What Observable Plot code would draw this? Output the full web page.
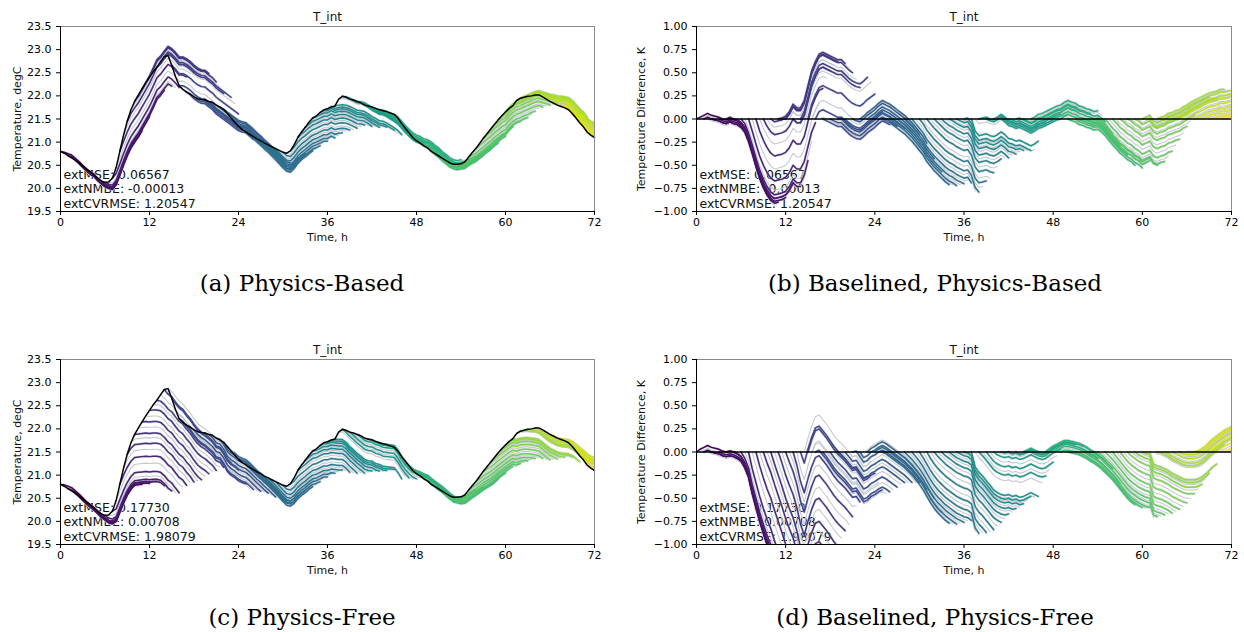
<!DOCTYPE html>
<html>
<head>
<meta charset="utf-8">
<script src="https://cdn.jsdelivr.net/npm/d3@7"></script>
<script src="https://cdn.jsdelivr.net/npm/@observablehq/plot@0.6"></script>
<style>
  body { margin: 0; background: #fff; }
  #fig { position: relative; width: 1244px; height: 632px; overflow: hidden; background: #fff; }
  .panel { position: absolute; }
  .cap { position: absolute; font-family: "DejaVu Serif", serif; font-size: 23px; color: #000;
         transform: translate(-50%, -50%); white-space: nowrap; }
</style>
</head>
<body>
<div id="fig"></div>
<script>
// Measured indoor temperature T_int, degC, every 0.5 h from 0 to 72 h
const measured = [
  20.80, 20.76, 20.71, 20.66, 20.61, 20.55, 20.48, 20.42, 20.36, 20.29, 20.22, 20.16,
  20.13, 20.14, 20.22, 20.45, 20.80, 21.15, 21.45, 21.70, 21.88, 22.02, 22.15, 22.28,
  22.40, 22.52, 22.62, 22.74, 22.85, 22.87, 22.66, 22.42, 22.22, 22.14, 22.08, 22.04,
  21.98, 21.94, 21.92, 21.91, 21.88, 21.86, 21.80, 21.76, 21.71, 21.62, 21.52, 21.43,
  21.34, 21.27, 21.22, 21.17, 21.12, 21.07, 21.03, 20.98, 20.94, 20.90, 20.86, 20.82,
  20.78, 20.76, 20.81, 20.94, 21.10, 21.22, 21.32, 21.43, 21.52, 21.57, 21.64, 21.70,
  21.72, 21.76, 21.78, 21.93, 21.99, 21.97, 21.93, 21.91, 21.88, 21.85, 21.80, 21.78,
  21.76, 21.73, 21.70, 21.68, 21.66, 21.63, 21.60, 21.52, 21.40, 21.30, 21.20, 21.10,
  21.03, 20.98, 20.92, 20.87, 20.80, 20.75, 20.70, 20.65, 20.60, 20.55, 20.52, 20.52,
  20.53, 20.57, 20.67, 20.77, 20.86, 20.97, 21.08, 21.18, 21.28, 21.38, 21.48, 21.57,
  21.65, 21.73, 21.79, 21.90, 21.95, 21.97, 21.99, 22.00, 22.02, 22.02, 21.98, 21.93,
  21.88, 21.84, 21.80, 21.77, 21.74, 21.70, 21.62, 21.52, 21.42, 21.33, 21.22, 21.15,
  21.10
];

// Free-run model minus measurement, K, on the same 0.5 h grid.
// A forecast issued at hour s is anchored on the measurement at s, so its
// deviation at hour t is error[t] - error[s].
const errorPhysicsBased = [
   0.00,  0.02,  0.04,  0.06,  0.04,  0.03,  0.02,  0.00, -0.01,  0.01, -0.01, -0.02,
  -0.05, -0.10, -0.20, -0.33, -0.47, -0.60, -0.70, -0.78, -0.84, -0.87, -0.86, -0.85,
  -0.83, -0.78, -0.70, -0.74, -0.74, -0.66, -0.50, -0.34, -0.24, -0.16, -0.14, -0.16,
  -0.18, -0.20, -0.22, -0.22, -0.26, -0.30, -0.33, -0.35, -0.36, -0.33, -0.29, -0.26,
  -0.23, -0.19, -0.16, -0.18, -0.20, -0.23, -0.26, -0.29, -0.32, -0.36, -0.40, -0.45,
  -0.50, -0.55, -0.62, -0.67, -0.72, -0.76, -0.80, -0.84, -0.87, -0.89, -0.92, -0.94,
  -0.96, -0.95, -1.01, -1.14, -1.19, -1.18, -1.17, -1.19, -1.20, -1.18, -1.15, -1.18,
  -1.22, -1.23, -1.25, -1.24, -1.26, -1.28, -1.30, -1.28, -1.25, -1.24, -1.22, -1.20,
  -1.18, -1.16, -1.15, -1.12, -1.10, -1.12, -1.13, -1.16, -1.17, -1.19, -1.20, -1.22,
  -1.21, -1.24, -1.28, -1.33, -1.38, -1.42, -1.47, -1.50, -1.54, -1.56, -1.60, -1.62,
  -1.66, -1.64, -1.62, -1.68, -1.70, -1.68, -1.67, -1.64, -1.63, -1.61, -1.60, -1.57,
  -1.55, -1.52, -1.50, -1.48, -1.46, -1.44, -1.42, -1.41, -1.40, -1.38, -1.38, -1.37,
  -1.36
];

const errorPhysicsFree = [
   0.00,  0.03,  0.05,  0.07,  0.05,  0.04,  0.03,  0.01,  0.00,  0.01,  0.00, -0.02,
  -0.05, -0.12, -0.22, -0.40, -0.55, -0.70, -0.83, -0.95, -1.05, -1.18, -1.30, -1.42,
  -1.55, -1.66, -1.76, -1.90, -2.08, -2.20, -2.05, -1.92, -1.82, -1.80, -1.85, -1.90,
  -1.96, -2.02, -2.07, -2.11, -2.15, -2.20, -2.25, -2.24, -2.30, -2.36, -2.34, -2.30,
  -2.28, -2.25, -2.23, -2.25, -2.28, -2.31, -2.34, -2.37, -2.40, -2.44, -2.48, -2.53,
  -2.58, -2.64, -2.71, -2.78, -2.84, -2.89, -2.93, -2.97, -3.00, -3.03, -3.06, -3.08,
  -3.10, -3.11, -3.14, -3.30, -3.36, -3.40, -3.45, -3.50, -3.55, -3.58, -3.60, -3.61,
  -3.60, -3.62, -3.61, -3.63, -3.62, -3.60, -3.58, -3.60, -3.62, -3.63, -3.62, -3.59,
  -3.56, -3.54, -3.52, -3.50, -3.50, -3.51, -3.52, -3.53, -3.55, -3.57, -3.60, -3.62,
  -3.65, -3.68, -3.72, -3.76, -3.80, -3.85, -3.90, -3.95, -4.00, -4.04, -4.07, -4.10,
  -4.12, -4.14, -4.15, -4.28, -4.30, -4.31, -4.33, -4.35, -4.38, -4.40, -4.42, -4.44,
  -4.45, -4.45, -4.45, -4.44, -4.42, -4.39, -4.35, -4.31, -4.28, -4.25, -4.22, -4.20,
  -4.18
];

// Extrapolation metrics: MSE, NMBE, CVRMSE
const metricsPhysicsBased = [0.06567, -0.00013, 1.20547];
const metricsPhysicsFree = [0.17730, 0.00708, 1.98079];

const timeTicks = [0, 12, 24, 36, 48, 60, 72];
const tempTicks = [19.5, 20.0, 20.5, 21.0, 21.5, 22.0, 22.5, 23.0, 23.5];
const diffTicks = [-1.0, -0.75, -0.5, -0.25, 0, 0.25, 0.5, 0.75, 1.0];

const STEP = 0.5;      // hours between samples and between forecast issues
const HORIZON = 18;    // samples per forecast (9 h)

const measuredRows = measured.map((v, i) => ({t: i * STEP, temp: v}));

function forecastRows(error) {
  const rows = [];
  const n = measured.length;
  for (let i = 0; i < n - 1; i++) {
    const last = Math.min(i + HORIZON, n - 1);
    for (let j = i; j <= last; j++) {
      const diff = error[j] - error[i];
      rows.push({start: i * STEP, t: j * STEP, temp: measured[j] + diff, diff, hourly: i % 2 === 0});
    }
  }
  return rows;
}

function metricsText(m) {
  const f = v => v.toFixed(5);
  return `extMSE: ${f(m[0])}\nextNMBE: ${f(m[1])}\nextCVRMSE: ${f(m[2])}`;
}

function panel({error, metrics, baselined, left, top, marginLeft, marginRight, ylabelDx}) {
  const rows = forecastRows(error);
  const thin = rows.filter(d => !d.hourly);
  const bold = rows.filter(d => d.hourly);
  const y = baselined ? "diff" : "temp";
  const yDomain = baselined ? [-1, 1] : [19.5, 23.5];
  const yTicks = baselined ? diffTicks : tempTicks;
  const yFormat = baselined ? d3.format(".2f") : d3.format(".1f");
  const ylabel = baselined ? "Temperature Difference, K" : "Temperature, degC";

  const marks = [
    Plot.text([metricsText(metrics)], {
      frameAnchor: "bottom-left", text: d => d, dx: 3, dy: -4,
      lineAnchor: "bottom", textAnchor: "start", fontSize: 12.5, lineHeight: 1.16, fill: "#111"
    }),
    Plot.line(thin, {x: "t", y, z: "start", stroke: "#c4c9d2", strokeWidth: 1.1, clip: true}),
    Plot.line(bold, {x: "t", y, z: "start", stroke: "#c6cad3", strokeWidth: 2.8, strokeOpacity: 0.55, clip: true}),
    Plot.line(bold, {x: "t", y, z: "start", stroke: "start", strokeWidth: 1.5, clip: true})
  ];
  if (baselined) {
    marks.push(Plot.ruleY([0], {stroke: "black", strokeWidth: 1.5}));
  } else {
    marks.push(Plot.line(measuredRows, {x: "t", y: "temp", stroke: "black", strokeWidth: 1.5}));
  }
  marks.push(
    Plot.ruleX([72], {stroke: "#8a8a8a", strokeWidth: 1}),
    Plot.ruleY([yDomain[1]], {stroke: "#8a8a8a", strokeWidth: 1}),
    Plot.ruleX([0], {stroke: "black", strokeWidth: 1}),
    Plot.ruleY([yDomain[0]], {stroke: "black", strokeWidth: 1}),
    Plot.axisX({ticks: timeTicks, tickSize: 4, tickPadding: 3, label: null, fontSize: 11}),
    Plot.axisY({ticks: yTicks, tickSize: 4, tickPadding: 5, tickFormat: yFormat, label: null, fontSize: 11}),
    Plot.text(["T_int"], {frameAnchor: "top", text: d => d, dy: -14, fontSize: 12, fill: "#111"}),
    Plot.text(["Time, h"], {frameAnchor: "bottom", text: d => d, dy: 29, fontSize: 11, fill: "#111"}),
    Plot.text([ylabel], {frameAnchor: "left", text: d => d, dx: ylabelDx, rotate: -90, textAnchor: "middle", fontSize: 11, fill: "#111"})
  );

  const svg = Plot.plot({
    width: 610,
    height: 250,
    marginLeft,
    marginRight,
    marginTop: 26,
    marginBottom: 39,
    style: {fontFamily: "DejaVu Sans, sans-serif", fontSize: "11px", color: "black", background: "transparent", overflow: "visible"},
    x: {domain: [0, 72]},
    y: {domain: yDomain},
    color: {type: "sequential", scheme: "viridis", domain: [0, 72]},
    marks
  });
  svg.classList.add("panel");
  svg.style.left = left + "px";
  svg.style.top = top + "px";
  return svg;
}

const fig = document.getElementById("fig");
fig.append(
  panel({error: errorPhysicsBased, metrics: metricsPhysicsBased, baselined: false, left: 0, top: 0, marginLeft: 60, marginRight: 16, ylabelDx: -43}),
  panel({error: errorPhysicsBased, metrics: metricsPhysicsBased, baselined: true, left: 630, top: 0, marginLeft: 66, marginRight: 9, ylabelDx: -55}),
  panel({error: errorPhysicsFree, metrics: metricsPhysicsFree, baselined: false, left: 0, top: 333, marginLeft: 60, marginRight: 16, ylabelDx: -43}),
  panel({error: errorPhysicsFree, metrics: metricsPhysicsFree, baselined: true, left: 630, top: 333, marginLeft: 66, marginRight: 9, ylabelDx: -55})
);

const captions = [
  {text: "(a) Physics-Based", x: 302, y: 283},
  {text: "(b) Baselined, Physics-Based", x: 935, y: 283},
  {text: "(c) Physics-Free", x: 302, y: 617},
  {text: "(d) Baselined, Physics-Free", x: 935, y: 617}
];
for (const c of captions) {
  const div = document.createElement("div");
  div.className = "cap";
  div.textContent = c.text;
  div.style.left = c.x + "px";
  div.style.top = c.y + "px";
  fig.append(div);
}
</script>
</body>
</html>
